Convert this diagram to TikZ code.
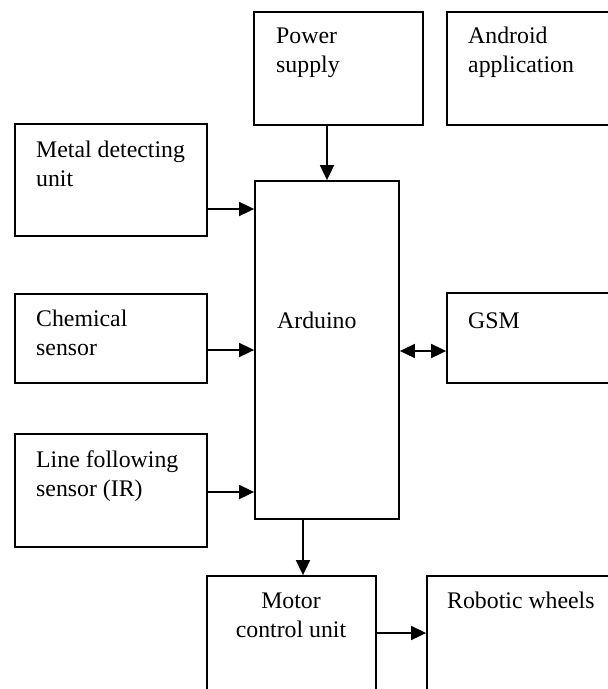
\documentclass[tikz,border=0pt]{standalone}
\usepackage{fontspec}
\setmainfont{Liberation Serif}
\usetikzlibrary{arrows.meta}
\tikzset{
  blk/.style={draw=black, line width=1.8pt, inner sep=0pt},
  lbl/.style={inner sep=0pt, anchor=base west, align=left, font=\fontsize{23.8}{28.5}\selectfont},
  lblc/.style={inner sep=0pt, anchor=base, align=center, font=\fontsize{23.8}{28.5}\selectfont},
  arr/.style={line width=1.8pt, -{Triangle[length=15pt,width=14pt]}},
  darr/.style={line width=1.8pt, {Triangle[length=15pt,width=14pt]}-{Triangle[length=15pt,width=14pt]}}
}
\newcommand{\blkbox}[5]{\node[blk, minimum width={(#4-#2)*1pt}, minimum height={(#5-#3)*1pt}] (#1) at ({(#2+#4)/2},{-(#3+#5)/2}) {};}
\begin{document}
\begin{tikzpicture}[x=1pt,y=1pt]
\clip (0,0) rectangle (608,-689);
\fill[white] (0,0) rectangle (608,-689);
% boxes
\blkbox{ps}{254}{12}{423}{125}
\blkbox{and}{447}{12}{612}{125}
\blkbox{md}{15}{124}{207}{236}
\blkbox{ch}{15}{294}{207}{383}
\blkbox{lf}{15}{434}{207}{547}
\blkbox{ard}{255}{181}{399}{519}
\blkbox{gsm}{447}{293}{612}{383}
\blkbox{mcu}{207}{576}{376}{695}
\blkbox{rw}{427}{576}{612}{695}
% texts (anchor at baseline of the last line)
\node[lbl] (tps) at (276,-72) {Power\\supply};
\node[lbl] (tand) at (468,-72) {Android\\application};
\node[lbl] (tmd) at (36,-186) {Metal detecting\\unit};
\node[lbl] (tch) at (36,-355) {Chemical\\sensor};
\node[lbl] (tlf) at (36,-496) {Line following\\sensor (IR)};
\node[lbl] (tard) at (277,-328) {Arduino};
\node[lbl] (tgsm) at (468,-328) {GSM};
\node[lblc] (tmcu) at (291,-637) {Motor\\control unit};
\node[lbl] (trw) at (447,-608) {Robotic wheels};
% connectors
\draw[arr] (ps.south -| 327,0) -- (ard.north -| 327,0);
\draw[arr] (md.east |- 0,-209) -- (ard.west |- 0,-209);
\draw[arr] (ch.east |- 0,-350) -- (ard.west |- 0,-350);
\draw[arr] (lf.east |- 0,-492) -- (ard.west |- 0,-492);
\draw[darr] (ard.east |- 0,-351) -- (gsm.west |- 0,-351);
\draw[arr] (ard.south -| 303,0) -- (mcu.north -| 303,0);
\draw[arr] (mcu.east |- 0,-633) -- (rw.west |- 0,-633);
\end{tikzpicture}
\end{document}
